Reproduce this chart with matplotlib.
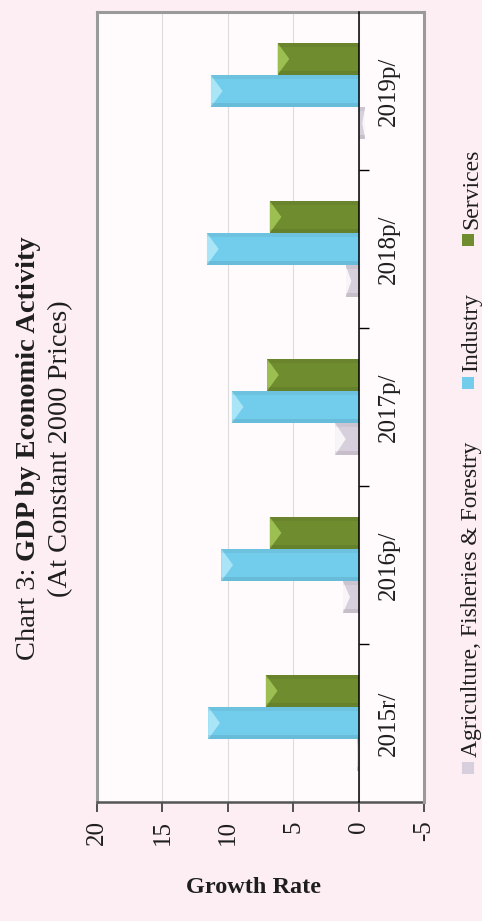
import matplotlib
matplotlib.use("Agg")
import matplotlib.pyplot as plt
from matplotlib.patches import Polygon, Rectangle
from matplotlib.lines import Line2D
import numpy as np

# Chart data (growth rate, %)
years = ["2015r/", "2016p/", "2017p/", "2018p/", "2019p/"]
series = ["Agriculture, Fisheries & Forestry", "Industry", "Services"]
agriculture = [0.1, 1.2, 1.8, 1.0, -0.5]
industry = [11.5, 10.5, 9.7, 11.6, 11.3]
services = [7.1, 6.8, 7.0, 6.8, 6.2]
x_ticks = [20, 15, 10, 5, 0, -5]

W, H = 482, 921
BG = "#fceef3"
PLOT_BG = "#fffbfc"
FRAME = "#9a9a9a"
TXT = "#1e1e1e"
colors = ["#d8cfdc", "#72cdec", "#6f8c2f"]
light = ["#ffffff", "#b9ecfb", "#a8cc5a"]
FONT = "Liberation Serif"


def fx(px):
    return px / W


def fy(py):
    return 1 - py / H


fig = plt.figure(figsize=(W / 100, H / 100), dpi=100, facecolor=BG)
ax = fig.add_axes([fx(97), fy(802), fx(424) - fx(97), fy(12) - fy(802)])
ax.set_facecolor(PLOT_BG)

pos = np.arange(len(years))
w = 0.203
values = [agriculture, industry, services]
offsets = [-w, 0, w]

for k in range(3):
    bars = ax.barh(pos + offsets[k], values[k], height=w, color=colors[k],
                   edgecolor="none", zorder=3)
    # little bevel at the end of each bar
    for b in bars:
        y0 = b.get_y()
        h = b.get_height()
        v = b.get_width()
        if abs(v) < 0.05:
            continue
        d = min(0.9, abs(v) * 0.45) * np.sign(v)
        tri = Polygon([(v, y0), (v, y0 + h), (v - d, y0 + h / 2)],
                      closed=True, facecolor=light[k], alpha=0.8,
                      edgecolor="none", zorder=4)
        ax.add_patch(tri)
        ax.add_patch(Rectangle((0, y0), v, h * 0.12, facecolor="black",
                               alpha=0.08, edgecolor="none", zorder=4))
        ax.add_patch(Rectangle((0, y0 + h * 0.88), v, h * 0.12,
                               facecolor="black", alpha=0.05,
                               edgecolor="none", zorder=4))

ax.set_xlim(20, -5)
ax.set_ylim(-0.5, len(years) - 0.5)

# value axis
ax.set_xticks(x_ticks)
ax.set_xticklabels([str(t) for t in x_ticks], rotation=90, fontsize=18,
                   fontfamily=FONT, color=TXT, va="top")
ax.tick_params(axis="x", direction="out", length=7, width=1.3,
               color="#444444", pad=6)
ax.grid(axis="x", color="#dcdcdc", lw=0.8, zorder=0)

# category axis crossing at zero
ax.spines["right"].set_position(("data", 0))
ax.spines["right"].set_color("black")
ax.spines["right"].set_linewidth(1.1)
ax.spines["right"].set_zorder(5)
ax.yaxis.set_ticks_position("right")
ax.set_yticks(pos[:-1] + 0.5)
ax.set_yticklabels([])
ax.set_yticks(pos, minor=True)
ax.set_yticklabels(years, minor=True, rotation=90, fontsize=18,
                   fontfamily=FONT, color=TXT, va="center")
ax.tick_params(axis="y", which="major", direction="out", length=7,
               width=1, color="black")
ax.tick_params(axis="y", which="minor", length=0, pad=14)

for s in ["left", "top"]:
    ax.spines[s].set_color(FRAME)
    ax.spines[s].set_linewidth(2.2)
ax.spines["bottom"].set_color("#555555")
ax.spines["bottom"].set_linewidth(1.8)
ax.add_line(Line2D([1, 1], [0, 1], transform=ax.transAxes, color=FRAME,
                   lw=2.2, clip_on=False, zorder=6))

# axis title
fig.text(fx(253), fy(887), "Growth Rate", fontsize=17.5, fontweight="bold",
         fontfamily=FONT, color=TXT, ha="center", va="center")

# chart title (rotated, mixed weights)
fig.canvas.draw()
renderer = fig.canvas.get_renderer()
t1 = fig.text(fx(35), fy(660), "Chart 3:", rotation=90,
              rotation_mode="anchor", ha="left", va="baseline",
              fontsize=20.5, fontfamily=FONT, color=TXT)
bb = t1.get_window_extent(renderer)
t2 = fig.text(fx(35), (bb.y1 + 7) / H, "GDP by Economic Activity",
              rotation=90, rotation_mode="anchor", ha="left", va="baseline",
              fontsize=20.5, fontweight="bold", fontfamily=FONT, color=TXT)
fig.text(fx(67), fy(449), "(At Constant 2000 Prices)", rotation=90,
         rotation_mode="anchor", ha="center", va="baseline", fontsize=20.5,
         fontfamily=FONT, color=TXT)

# legend, rotated like the rest of the chart
marker_y = [768, 383, 240]
for k in range(3):
    cy = marker_y[k]
    fig.patches.append(Rectangle((fx(462), fy(cy + 6)), fx(12), 12 / H,
                                 transform=fig.transFigure,
                                 facecolor=colors[k], edgecolor="none"))
    fig.text(fx(477), fy(cy - 11), series[k], rotation=90,
             rotation_mode="anchor", ha="left", va="baseline", fontsize=17,
             fontfamily=FONT, color=TXT)

fig.savefig("out.png", dpi=100, facecolor=BG)
